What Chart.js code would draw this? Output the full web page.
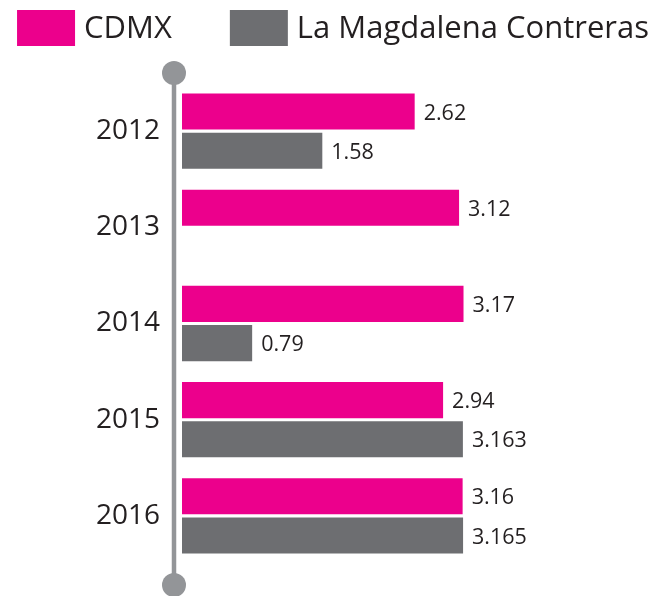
<!DOCTYPE html>
<html>
<head>
<meta charset="utf-8">
<script src="https://cdn.jsdelivr.net/npm/chart.js@4"></script>
<style>
html,body{margin:0;padding:0;background:#fff;}
#wrap{width:666px;height:596px;}
</style>
</head>
<body>
<div id="wrap"><canvas id="c" width="666" height="596"></canvas></div>
<script>
const categories = ["2012", "2013", "2014", "2015", "2016"];
const cdmxValues = [2.62, 3.12, 3.17, 2.94, 3.16];
const magdalenaValues = [1.58, null, 0.79, 3.163, 3.165];
const cdmxLabels = ["2.62", "3.12", "3.17", "2.94", "3.16"];
const magdalenaLabels = ["1.58", "", "0.79", "3.163", "3.165"];
const seriesNames = ["CDMX", "La Magdalena Contreras"];
const seriesColors = ["#EC008C", "#6D6E71"];

const FONT = "'Open Sans', Lato, sans-serif";

const axisLine = {
  id: 'axisLine',
  beforeDatasetsDraw(chart) {
    const ctx = chart.ctx, a = chart.chartArea;
    const x = a.left - 8;
    const top = a.top - 10, bottom = a.bottom + 21;
    ctx.save();
    ctx.strokeStyle = '#939598';
    ctx.lineWidth = 4.5;
    ctx.beginPath(); ctx.moveTo(x, top); ctx.lineTo(x, bottom); ctx.stroke();
    ctx.fillStyle = '#939598';
    ctx.beginPath(); ctx.arc(x, top, 12, 0, Math.PI * 2); ctx.fill();
    ctx.beginPath(); ctx.arc(x, bottom, 12, 0, Math.PI * 2); ctx.fill();
    ctx.restore();
  }
};

const valueLabels = {
  id: 'valueLabels',
  afterDatasetsDraw(chart) {
    const ctx = chart.ctx;
    const texts = [cdmxLabels, magdalenaLabels];
    ctx.save();
    ctx.font = "21.5px " + FONT;
    ctx.fillStyle = '#231f20';
    ctx.textBaseline = 'middle';
    ctx.textAlign = 'left';
    chart.data.datasets.forEach((ds, di) => {
      const meta = chart.getDatasetMeta(di);
      meta.data.forEach((bar, i) => {
        const t = texts[di][i];
        if (!t || ds.data[i] == null) return;
        ctx.fillText(t, bar.x + 9, bar.y + 2);
      });
    });
    ctx.restore();
  }
};

const customLegend = {
  id: 'customLegend',
  afterDraw(chart) {
    const ctx = chart.ctx;
    const boxW = 58, boxH = 36, boxTop = 10, textGap = 9, itemGap = 58;
    ctx.save();
    ctx.font = "31px " + FONT;
    const widths = seriesNames.map(n => ctx.measureText(n).width);
    let total = 0;
    widths.forEach((w, i) => { total += boxW + textGap + w; if (i < widths.length - 1) total += itemGap; });
    let x = (chart.width - total) / 2;
    ctx.textBaseline = 'middle';
    ctx.textAlign = 'left';
    seriesNames.forEach((n, i) => {
      ctx.fillStyle = seriesColors[i];
      ctx.fillRect(x, boxTop, boxW, boxH);
      ctx.fillStyle = '#231f20';
      ctx.fillText(n, x + boxW + textGap, boxTop + boxH / 2 + 1);
      x += boxW + textGap + widths[i] + itemGap;
    });
    ctx.restore();
  }
};

new Chart(document.getElementById('c'), {
  type: 'bar',
  data: {
    labels: categories,
    datasets: [
      { label: seriesNames[0], data: cdmxValues, backgroundColor: seriesColors[0], borderWidth: 0,
        categoryPercentage: 0.815, barPercentage: 0.92 },
      { label: seriesNames[1], data: magdalenaValues, backgroundColor: seriesColors[1], borderWidth: 0,
        categoryPercentage: 0.815, barPercentage: 0.92 }
    ]
  },
  options: {
    indexAxis: 'y',
    responsive: false,
    animation: false,
    layout: { padding: { top: 83, bottom: 32, left: 0, right: 0 } },
    plugins: {
      legend: { display: false },
      tooltip: { enabled: false }
    },
    scales: {
      x: { display: false, min: 0, max: 5.45 },
      y: {
        grid: { display: false, drawTicks: false },
        border: { display: false },
        ticks: { font: { family: FONT, size: 28 }, color: '#231f20', padding: 22 },
        afterFit(scale) { scale.width = 182; scale.paddingTop = 0; scale.paddingBottom = 0; }
      }
    }
  },
  plugins: [axisLine, valueLabels, customLegend]
});
</script>
</body>
</html>
